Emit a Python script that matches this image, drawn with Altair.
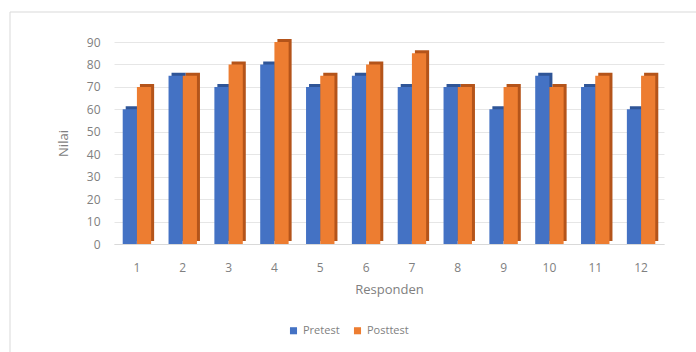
import altair as alt
import pandas as pd

responden = [str(i) for i in range(1, 13)]
pretest = [60, 75, 70, 80, 70, 75, 70, 70, 60, 75, 70, 60]
posttest = [70, 75, 80, 90, 75, 80, 85, 70, 70, 70, 75, 75]
series = ["Pretest", "Posttest"]
colors = ["#4472C4", "#ED7D31"]
dark = {"Pretest": "#2F5597", "Posttest": "#B4541A"}

rows = []
for r, a, b in zip(responden, pretest, posttest):
    rows.append({"Responden": r, "series": "Pretest", "Nilai": a, "dark": dark["Pretest"]})
    rows.append({"Responden": r, "series": "Posttest", "Nilai": b, "dark": dark["Posttest"]})
df = pd.DataFrame(rows)

font = "Open Sans"
grey = "#808080"

W = 550
n = len(responden)
p_in, p_out = 0.38, 0.19
step = W / (n - p_in + 2 * p_out)
bw = step * (1 - p_in)

x = alt.X("Responden:N", sort=responden, title="Responden",
          scale=alt.Scale(paddingInner=p_in, paddingOuter=p_out),
          axis=alt.Axis(labelAngle=0, labelPadding=18, titlePadding=10, ticks=False, grid=False,
                        domainColor="#d9d9d9", labelFontSize=12, titleFontSize=13,
                        labelColor=grey, titleColor=grey, labelFont=font, titleFont=font,
                        titleFontWeight="normal"))
y = alt.Y("Nilai:Q", title="Nilai",
          scale=alt.Scale(domain=[0, 90]),
          axis=alt.Axis(values=list(range(0, 100, 10)), domain=False, ticks=False,
                        labelPadding=14, titlePadding=16, gridColor="#e6e6e6",
                        labelFontSize=12, titleFontSize=13, labelColor=grey, titleColor=grey,
                        labelFont=font, titleFont=font, titleFontWeight="normal"))

frame = alt.Chart(pd.DataFrame({"a": [0]})).mark_rect(
    fill="white", fillOpacity=0, stroke="#d9d9d9", strokeWidth=1
).encode(x=alt.value(-104), x2=alt.value(590), y=alt.value(-30), y2=alt.value(320))

back = alt.Chart(df).mark_bar(yOffset=-3).encode(
    x=x, y=y,
    xOffset=alt.XOffset("series:N", sort=series,
                        scale=alt.Scale(domain=series, range=[3, 3 + bw])),
    color=alt.Color("dark:N", scale=None)
)
front = alt.Chart(df).mark_bar().encode(
    x=x, y=y,
    xOffset=alt.XOffset("series:N", sort=series,
                        scale=alt.Scale(domain=series, range=[0, bw])),
    color=alt.Color("series:N", sort=series,
                    scale=alt.Scale(domain=series, range=colors),
                    legend=alt.Legend(title=None, orient="none", direction="horizontal",
                                      legendX=174, legendY=283, symbolType="square",
                                      symbolSize=50, labelFontSize=11, labelColor=grey,
                                      labelFont=font, columnPadding=12))
)

chart = alt.layer(frame, back, front).resolve_scale(xOffset="independent").properties(
    width=W, height=202,
    background="white",
    autosize=alt.AutoSizeParams(type="none"),
    padding={"left": 114, "top": 42, "right": 32, "bottom": 108},
).configure_view(stroke=None)

chart.save("out.html", embed_options={"renderer": "svg", "actions": False})
